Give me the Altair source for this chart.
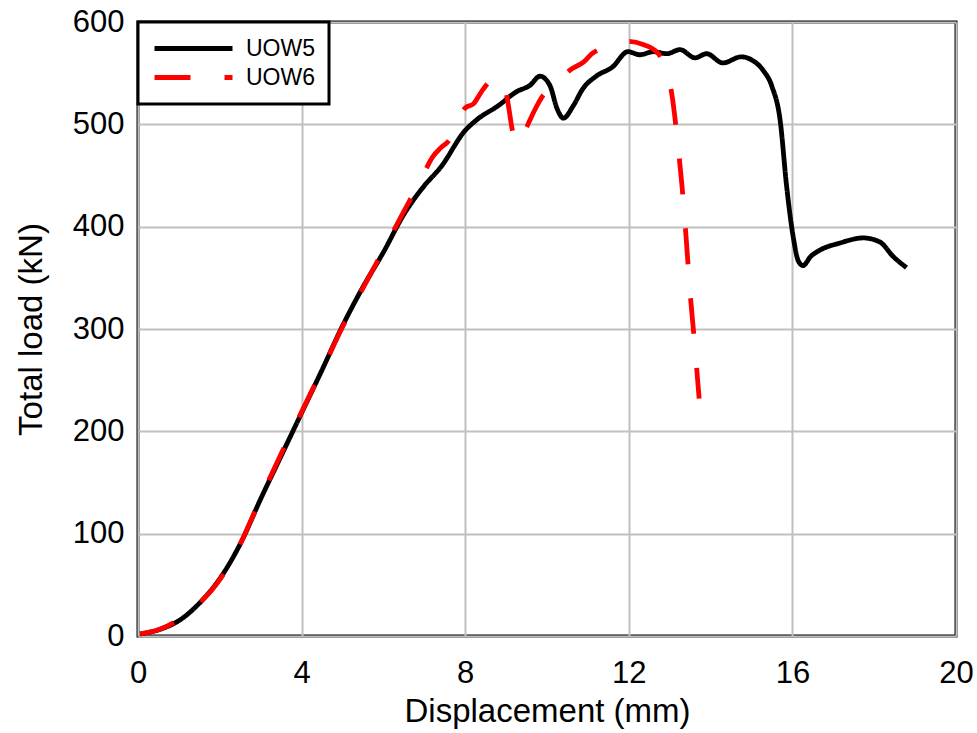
import altair as alt
import pandas as pd

# UOW5 (solid black)
uow5_disp = [0.05, 0.5, 1.0, 1.5, 2.0, 2.5, 3.0, 3.5, 4.0, 4.5, 5.0, 5.5, 6.0, 6.5, 7.0, 7.4,
             8.0, 8.3, 8.8, 9.26, 9.58, 9.83, 10.07, 10.25, 10.4, 10.64, 10.88, 11.2, 11.6,
             11.98, 12.27, 12.6, 12.93, 13.25, 13.62, 13.9, 14.3, 14.75, 15.0, 15.28, 15.5,
             15.7, 15.86, 16.02, 16.15, 16.26, 16.45, 16.67, 17.16, 17.73, 18.14, 18.46, 18.79]
uow5_load = [2, 6, 15, 32, 56, 90, 134, 176, 218, 260, 303, 341, 375, 412, 440, 458,
             494, 505, 518, 532, 538, 547, 538, 515, 506, 518, 535, 547, 556,
             571, 568, 571, 569, 573, 565, 569, 560, 566, 563, 553, 537,
             504, 439, 390, 366, 362, 371, 377, 384, 389, 385, 371, 360]

# UOW6 (dashed red)
uow6_disp = [0.05, 0.5, 1.0, 1.5, 2.0, 2.5, 3.0, 3.5, 4.0, 4.5, 5.0, 5.5, 6.0, 6.5, 6.8, 7.0,
             7.2, 7.4, 7.6, 7.8, 8.0, 8.2, 8.4, 8.6, 8.8, 8.95, 9.05, 9.15, 9.3, 9.5, 9.7,
             9.9, 10.1, 10.3, 10.6, 10.9, 11.1, 11.4, 11.7, 12.0, 12.35, 12.7, 12.95, 13.05,
             13.2, 13.3, 13.4, 13.5, 13.6, 13.72]
uow6_load = [2, 6, 16, 32, 55, 90, 135, 178, 219, 260, 302, 340, 377, 415, 437, 453,
             468, 477, 484, 500, 516, 520, 532, 542, 546, 540, 520, 495, 481, 497, 514,
             528, 537, 544, 554, 561, 569, 575, 579, 581, 578, 570, 548, 530,
             480, 440, 390, 335, 290, 232]

series_names = ["UOW5", "UOW6"]
series_colors = ["#000000", "#ff0000"]
x_ticks = [0, 4, 8, 12, 16, 20]
y_ticks = [0, 100, 200, 300, 400, 500, 600]

rows = []
for i, (d, l) in enumerate(zip(uow5_disp, uow5_load)):
    rows.append({"series": "UOW5", "disp": d, "load": l, "order": i})
for i, (d, l) in enumerate(zip(uow6_disp, uow6_load)):
    rows.append({"series": "UOW6", "disp": d, "load": l, "order": i})
df = pd.DataFrame(rows)

leg = alt.Legend(title=None, orient="none", legendX=0, legendY=0)

chart = alt.Chart(df).mark_line(interpolate="monotone", strokeWidth=4.8).encode(
    x=alt.X("disp:Q", title="Displacement (mm)",
            scale=alt.Scale(domain=[0, 20], nice=False),
            axis=alt.Axis(values=x_ticks, labelPadding=22, titlePadding=7, labelFlush=False)),
    y=alt.Y("load:Q", title="Total load (kN)",
            scale=alt.Scale(domain=[0, 600], nice=False),
            axis=alt.Axis(values=y_ticks, labelPadding=14, titlePadding=24, labelFlush=False)),
    color=alt.Color("series:N",
                    scale=alt.Scale(domain=series_names, range=series_colors),
                    legend=leg),
    strokeDash=alt.StrokeDash("series:N",
                              scale=alt.Scale(domain=series_names, range=[[1, 0], [36, 34]]),
                              legend=leg),
    order="order:Q",
).properties(
    width=818,
    height=614,
    autosize=alt.AutoSizeParams(type="none"),
    padding={"left": 138, "top": 22, "right": 21, "bottom": 97},
).configure_view(
    stroke="black", strokeWidth=3
).configure_axis(
    domain=False, ticks=False, grid=True, gridColor="#c0c0c0", gridWidth=2,
    labelFont="Liberation Sans", labelFontSize=31, labelColor="black",
    titleFont="Liberation Sans", titleFontSize=33, titleFontWeight="normal", titleColor="black",
).configure_legend(
    fillColor="white", strokeColor="black", strokeWidth=3, padding=14,
    labelFont="Liberation Sans", labelFontSize=23, labelColor="black", labelOffset=11,
    symbolType="stroke", symbolSize=6084, symbolStrokeWidth=4.8, rowPadding=4,
    clipHeight=25,
)

chart.save("out.html", embed_options={"renderer": "svg", "actions": False})
